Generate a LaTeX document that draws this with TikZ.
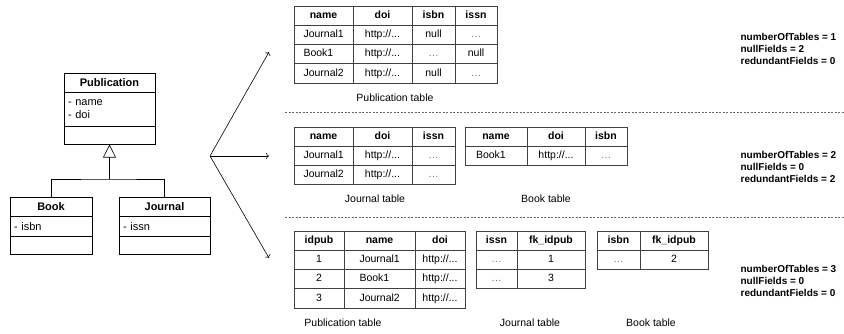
\documentclass[tikz,border=0pt]{standalone}
\usepackage{fontspec}
\setmainfont{Liberation Sans}
\usetikzlibrary{arrows, arrows.meta, shapes, positioning}

\newcommand{\lnk}{http://...}
\newcommand{\elid}{\textcolor{black!55}{…}}

\tikzset{
	cell/.style={draw=black!75, rectangle, inner sep=0pt, outer sep=0pt, minimum height=19.25pt, text height=7.5pt, text depth=2pt, font=\fontsize{10.5}{12}\selectfont},
	head/.style={cell, font=\fontsize{10.5}{12}\selectfont\bfseries},
	namecell/.style={cell, text width=40pt, align=left},
	uml/.style={draw, rectangle, inner sep=0pt, outer sep=0pt, font=\fontsize{11}{13}\selectfont},
	umlhead/.style={uml, font=\fontsize{11}{13}\selectfont\bfseries, minimum height=19.5pt},
	capt/.style={font=\fontsize{10.5}{12}\selectfont},
	stats/.style={anchor=west, align=left, font=\fontsize{10}{12}\selectfont\bfseries},
	divider/.style={draw=black!60, dash pattern=on 2pt off 1.5pt}
}

\begin{document}
\begin{tikzpicture}[x=1pt, y=-1pt, line width=0.6pt]
	\useasboundingbox (0,0) rectangle (844,333);

	% class diagram %
	\node[umlhead, minimum width=91pt, anchor=north west] (pub) at (64,73) {Publication};
	\node[uml, minimum width=91pt, minimum height=34pt, text width=83pt, align=left, below=0pt of pub] (pubattr) {- name\\- doi};
	\node[uml, minimum width=91pt, minimum height=18pt, below=0pt of pubattr] (pubops) {};

	\node[umlhead, minimum width=82pt, anchor=north west] (book) at (10,197) {Book};
	\node[uml, minimum width=82pt, minimum height=20pt, text width=74pt, align=left, below=0pt of book] (bookattr) {- isbn};
	\node[uml, minimum width=82pt, minimum height=18pt, below=0pt of bookattr] (bookops) {};

	\node[umlhead, minimum width=91pt, anchor=north west] (journal) at (119,197) {Journal};
	\node[uml, minimum width=91pt, minimum height=20pt, text width=83pt, align=left, below=0pt of journal] (journalattr) {- issn};
	\node[uml, minimum width=91pt, minimum height=18pt, below=0pt of journalattr] (journalops) {};

	\coordinate (join) at (109.5,179);
	\draw (book.north) |- (join) -| (journal.north);
	\draw[-{Triangle[open, length=13pt, width=13pt]}] (join) -- (pubops.south);

	% mapping arrows %
	\coordinate (fork) at (210,156);
	\coordinate (to1) at (269,52);
	\coordinate (to2) at (269,156);
	\coordinate (to3) at (269,258);
	\draw[->] (fork) -- (to1);
	\draw[->] (fork) -- (to2);
	\draw[->] (fork) -- (to3);

	% one table %
	\node[head, minimum width=59pt, anchor=north west] (pa0) at (294,6) {name};
	\node[head, minimum width=59pt, right=0pt of pa0] (pb0) {doi};
	\node[head, minimum width=43pt, right=0pt of pb0] (pc0) {isbn};
	\node[head, minimum width=42pt, right=0pt of pc0] (pd0) {issn};
	\foreach \n/\i/\s [count=\r, remember=\r as \q (initially 0)] in {Journal1/null/\elid, Book1/\elid/null, Journal2/null/\elid}{
		\node[namecell, minimum width=59pt, below=0pt of pa\q] (pa\r) {\n};
		\node[cell, minimum width=59pt, right=0pt of pa\r] (pb\r) {\lnk};
		\node[cell, minimum width=43pt, right=0pt of pb\r] (pc\r) {\i};
		\node[cell, minimum width=42pt, right=0pt of pc\r] (pd\r) {\s};
	}
	\node[capt] (cap1) at (395,98) {Publication table};

	\draw[divider] (285,112) -- (844,112);

	% two tables %
	\node[head, minimum width=59pt, anchor=north west] (ja0) at (294,127) {name};
	\node[head, minimum width=59pt, right=0pt of ja0] (jb0) {doi};
	\node[head, minimum width=43pt, right=0pt of jb0] (jc0) {issn};
	\foreach \n [count=\r, remember=\r as \q (initially 0)] in {Journal1, Journal2}{
		\node[namecell, minimum width=59pt, below=0pt of ja\q] (ja\r) {\n};
		\node[cell, minimum width=59pt, right=0pt of ja\r] (jb\r) {\lnk};
		\node[cell, minimum width=43pt, right=0pt of jb\r] (jc\r) {\elid};
	}
	\node[capt] (cap2) at (375,199) {Journal table};

	\node[head, minimum width=62pt, anchor=north west] (ba0) at (465,127) {name};
	\node[head, minimum width=58pt, right=0pt of ba0] (bb0) {doi};
	\node[head, minimum width=42pt, right=0pt of bb0] (bc0) {isbn};
	\node[namecell, minimum width=62pt, below=0pt of ba0] (ba1) {Book1};
	\node[cell, minimum width=58pt, right=0pt of ba1] (bb1) {\lnk};
	\node[cell, minimum width=42pt, right=0pt of bb1] (bc1) {\elid};
	\node[capt] (cap3) at (546,199) {Book table};

	\draw[divider] (285,217) -- (844,217);

	% three tables %
	\node[head, minimum width=50pt, anchor=north west] (qa0) at (294,231) {idpub};
	\node[head, minimum width=71pt, right=0pt of qa0] (qb0) {name};
	\node[head, minimum width=50pt, right=0pt of qb0] (qc0) {doi};
	\foreach \n [count=\r, remember=\r as \q (initially 0)] in {Journal1, Book1, Journal2}{
		\node[cell, minimum width=50pt, below=0pt of qa\q] (qa\r) {\r};
		\node[namecell, minimum width=71pt, right=0pt of qa\r] (qb\r) {\n};
		\node[cell, minimum width=50pt, right=0pt of qb\r] (qc\r) {\lnk};
	}
	\node[capt] (cap4) at (343,323) {Publication table};

	\node[head, minimum width=41pt, anchor=north west] (ka0) at (476,231) {issn};
	\node[head, minimum width=68pt, right=0pt of ka0] (kb0) {fk\_idpub};
	\foreach \k [count=\r, remember=\r as \q (initially 0)] in {1, 3}{
		\node[cell, minimum width=41pt, below=0pt of ka\q] (ka\r) {\elid};
		\node[cell, minimum width=68pt, right=0pt of ka\r] (kb\r) {\k};
	}
	\node[capt] (cap5) at (530,323) {Journal table};

	\node[head, minimum width=43pt, anchor=north west] (ma0) at (597,231) {isbn};
	\node[head, minimum width=68pt, right=0pt of ma0] (mb0) {fk\_idpub};
	\node[cell, minimum width=43pt, below=0pt of ma0] (ma1) {\elid};
	\node[cell, minimum width=68pt, right=0pt of ma1] (mb1) {2};
	\node[capt] (cap6) at (651,323) {Book table};

	% metrics %
	\node[stats] (m1) at (737,49) {numberOfTables = 1\\nullFields = 2\\redundantFields = 0};
	\node[stats] (m2) at (737,167) {numberOfTables = 2\\nullFields = 0\\redundantFields = 2};
	\node[stats] (m3) at (737,281) {numberOfTables = 3\\nullFields = 0\\redundantFields = 0};
\end{tikzpicture}
\end{document}
